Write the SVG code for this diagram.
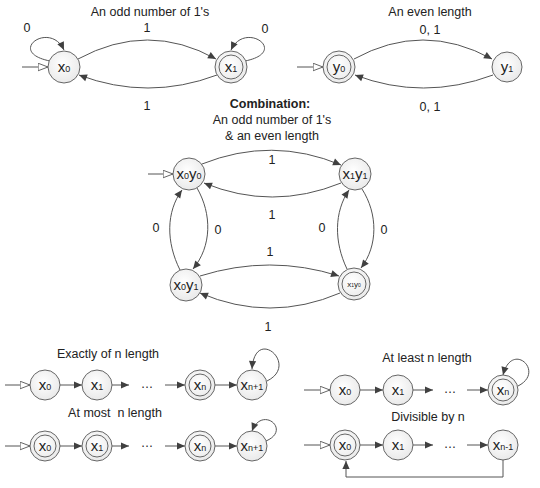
<svg xmlns="http://www.w3.org/2000/svg" width="540" height="488" viewBox="0 0 540 488">
<style>
text{font-family:"Liberation Sans",Arial,sans-serif;fill:#222;}
.t{font-size:12.5px;text-anchor:middle;}
.b{font-weight:bold;}
.n{font-size:15px;text-anchor:middle;}
.s{font-size:9px;}
.c{fill:url(#g);stroke:#666;stroke-width:1;}
.ci{fill:none;stroke:#666;stroke-width:1;}
.e{fill:none;stroke:#555;stroke-width:1;marker-end:url(#a);}
.i{fill:none;stroke:#555;stroke-width:1;marker-end:url(#h);}
</style>
<defs>
<radialGradient id="g" cx="0.45" cy="0.4" r="0.7"><stop offset="0" stop-color="#ffffff"/><stop offset="1" stop-color="#e6e6e6"/></radialGradient>
<marker id="a" viewBox="0 0 10 10" refX="10" refY="5" markerWidth="9" markerHeight="8" orient="auto" markerUnits="userSpaceOnUse"><path d="M0,0.5 L10,5 L0,9.5 z" fill="#404040"/></marker>
<marker id="h" viewBox="0 0 12 10" refX="11.5" refY="5" markerWidth="11" markerHeight="9" orient="auto" markerUnits="userSpaceOnUse"><path d="M0.5,0.8 L11.5,5 L0.5,9.2 z" fill="#fff" stroke="#555" stroke-width="1"/></marker>
</defs>
<rect width="540" height="488" fill="#fff"/>

<g id="labels">
<text class="t" x="150" y="16">An odd number of 1's</text>
<text class="t" x="27" y="32">0</text>
<text class="t" x="147" y="32">1</text>
<text class="t" x="265" y="33">0</text>
<text class="t" x="147" y="110">1</text>
<text class="t" x="430" y="16">An even length</text>
<text class="t" x="430" y="34">0, 1</text>
<text class="t" x="430" y="111">0, 1</text>
<text class="t b" x="270" y="108">Combination:</text>
<text class="t" x="272" y="124">An odd number of 1's</text>
<text class="t" x="272" y="140">&amp; an even length</text>
<text class="t" x="272" y="164">1</text>
<text class="t" x="272" y="219">1</text>
<text class="t" x="270" y="256">1</text>
<text class="t" x="268" y="331">1</text>
<text class="t" x="156" y="232">0</text>
<text class="t" x="218" y="234">0</text>
<text class="t" x="322" y="232">0</text>
<text class="t" x="384" y="234">0</text>
<text class="t" x="108" y="358">Exactly of n length</text>
<text class="t" x="115" y="417" xml:space="preserve">At most  n length</text>
<text class="t" x="427" y="362">At least n length</text>
<text class="t" x="428" y="421">Divisible by n</text>
<text class="t" x="147" y="388">…</text>
<text class="t" x="147" y="447">…</text>
<text class="t" x="450" y="393">…</text>
<text class="t" x="450" y="448">…</text>
</g>

<g id="connectors">
<path class="i" d="M22,67 L48,67"/>
<path class="e" d="M78,59 Q148,21 216,59"/>
<path class="e" d="M217,75 Q148,101 79,75"/>
<path class="e" d="M50,61 C5,52 50,20 64,50"/>
<path class="e" d="M245,61 C290,52 245,20 231,50"/>
<path class="i" d="M297,67 L323,67"/>
<path class="e" d="M354,59 Q423,21 492,59"/>
<path class="e" d="M493,75 Q423,101 355,75"/>
<path class="i" d="M148,174 L173,174"/>
<path class="e" d="M202,164 Q272,136 341,165"/>
<path class="e" d="M341,183 Q272,211 204,183"/>
<path class="e" d="M200,276 Q270,254 339,276"/>
<path class="e" d="M340,293 Q270,323 200,293"/>
<path class="e" d="M180,270 C166,242 166,212 182,190"/>
<path class="e" d="M197,188 C212,214 212,246 193,269"/>
<path class="e" d="M347,269 C334,242 334,212 349,190"/>
<path class="e" d="M362,189 C378,214 378,246 361,268"/>
<path class="i" d="M5,385 L30,385"/>
<path class="e" d="M60,385 L82,385"/>
<path class="e" d="M112,385 L129,385"/>
<path class="e" d="M165,385 L185,385"/>
<path class="e" d="M215,385 L237,385"/>
<path class="e" d="M267,381 C300,365 255,325 252,369"/>
<path class="i" d="M5,446 L30,446"/>
<path class="e" d="M60,446 L82,446"/>
<path class="e" d="M112,446 L129,446"/>
<path class="e" d="M165,446 L185,446"/>
<path class="e" d="M215,446 L237,446"/>
<path class="e" d="M266,441 C292,430 262,405 252,431"/>
<path class="i" d="M304,390 L330,390"/>
<path class="e" d="M360,390 L383,390"/>
<path class="e" d="M413,390 L433,390"/>
<path class="e" d="M467,390 L488,390"/>
<path class="e" d="M518,386 C546,372 512,340 503,375"/>
<path class="i" d="M304,445 L330,445"/>
<path class="e" d="M360,445 L383,445"/>
<path class="e" d="M413,445 L433,445"/>
<path class="e" d="M467,445 L488,445"/>
<path class="e" d="M503,460 L503,477 L346,477 L346,461"/>
</g>

<g id="x0"><circle class="c" cx="64" cy="67" r="16"/><text class="n" x="64" y="72">x<tspan class="s">0</tspan></text></g>
<g id="x1"><circle class="c" cx="231" cy="67" r="16"/><circle class="ci" cx="231" cy="67" r="12"/><text class="n" x="231" y="72">x<tspan class="s">1</tspan></text></g>
<g id="y0"><circle class="c" cx="339" cy="67" r="16"/><circle class="ci" cx="339" cy="67" r="12"/><text class="n" x="339" y="72">y<tspan class="s">0</tspan></text></g>
<g id="y1"><circle class="c" cx="507" cy="67" r="15"/><text class="n" x="507" y="72">y<tspan class="s">1</tspan></text></g>

<g id="x0y0"><circle class="c" cx="189" cy="174" r="16"/><text class="n" x="189" y="179">x<tspan class="s">0</tspan>y<tspan class="s">0</tspan></text></g>
<g id="x1y1"><circle class="c" cx="355" cy="174" r="16"/><text class="n" x="355" y="179">x<tspan class="s">1</tspan>y<tspan class="s">1</tspan></text></g>
<g id="x0y1"><circle class="c" cx="186" cy="285" r="16"/><text class="n" x="186" y="290">x<tspan class="s">0</tspan>y<tspan class="s">1</tspan></text></g>
<g id="x1y0"><circle class="c" cx="354" cy="284" r="16"/><circle class="ci" cx="354" cy="284" r="12"/><text x="354" y="287" style="font-size:8px;text-anchor:middle">x<tspan style="font-size:5px">1</tspan>y<tspan style="font-size:5px">0</tspan></text></g>

<g id="e-x0"><circle class="c" cx="45" cy="385" r="15"/><text class="n" x="45" y="390">x<tspan class="s">0</tspan></text></g>
<g id="e-x1"><circle class="c" cx="97" cy="385" r="15"/><text class="n" x="97" y="390">x<tspan class="s">1</tspan></text></g>
<g id="e-xn"><circle class="c" cx="200" cy="385" r="15"/><circle class="ci" cx="200" cy="385" r="11"/><text class="n" x="200" y="390">x<tspan class="s">n</tspan></text></g>
<g id="e-xn1"><circle class="c" cx="252" cy="385" r="15"/><text class="n" x="252" y="390">x<tspan class="s">n+1</tspan></text></g>

<g id="m-x0"><circle class="c" cx="45" cy="446" r="15"/><circle class="ci" cx="45" cy="446" r="11"/><text class="n" x="45" y="451">x<tspan class="s">0</tspan></text></g>
<g id="m-x1"><circle class="c" cx="97" cy="446" r="15"/><circle class="ci" cx="97" cy="446" r="11"/><text class="n" x="97" y="451">x<tspan class="s">1</tspan></text></g>
<g id="m-xn"><circle class="c" cx="200" cy="446" r="15"/><circle class="ci" cx="200" cy="446" r="11"/><text class="n" x="200" y="451">x<tspan class="s">n</tspan></text></g>
<g id="m-xn1"><circle class="c" cx="252" cy="446" r="15"/><text class="n" x="252" y="451">x<tspan class="s">n+1</tspan></text></g>

<g id="l-x0"><circle class="c" cx="345" cy="390" r="15"/><text class="n" x="345" y="395">x<tspan class="s">0</tspan></text></g>
<g id="l-x1"><circle class="c" cx="398" cy="390" r="15"/><text class="n" x="398" y="395">x<tspan class="s">1</tspan></text></g>
<g id="l-xn"><circle class="c" cx="503" cy="390" r="15"/><circle class="ci" cx="503" cy="390" r="11"/><text class="n" x="503" y="395">x<tspan class="s">n</tspan></text></g>

<g id="d-x0"><circle class="c" cx="345" cy="445" r="15"/><circle class="ci" cx="345" cy="445" r="11"/><text class="n" x="345" y="450">x<tspan class="s">0</tspan></text></g>
<g id="d-x1"><circle class="c" cx="398" cy="445" r="15"/><text class="n" x="398" y="450">x<tspan class="s">1</tspan></text></g>
<g id="d-xn1"><circle class="c" cx="503" cy="445" r="15"/><text class="n" x="503" y="450">x<tspan class="s">n-1</tspan></text></g>
</svg>
